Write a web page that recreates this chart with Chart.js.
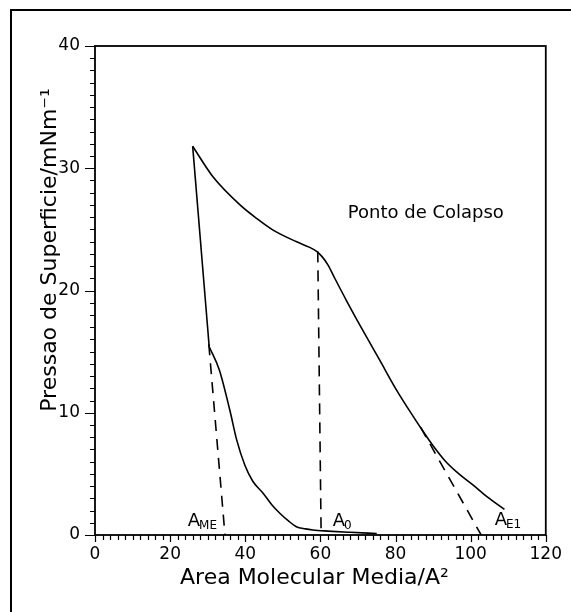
<!DOCTYPE html>
<html>
<head>
<meta charset="utf-8">
<script src="https://cdn.jsdelivr.net/npm/chart.js@4.4.0/dist/chart.umd.min.js"></script>
<style>
  html, body { margin: 0; padding: 0; background: #fff; }
  #wrap { position: relative; width: 571px; height: 612px; }
  #frame { position: absolute; left: 10px; top: 9px; right: 0; bottom: 0;
           border-top: 2px solid #000; border-left: 2px solid #000; pointer-events: none; }
</style>
</head>
<body>
<div id="wrap">
  <canvas id="chart" width="571" height="612"></canvas>
  <div id="frame"></div>
</div>
<script>
// compression branch: collapse point out to A_E1
const upperArea     = [26, 31.4, 38.6, 43, 47.3, 53.7, 57, 59, 60.5, 62, 64, 66.9, 71, 75.8, 80, 84.7, 87.5, 90, 93.1, 96.5, 100.6, 104.5, 109];
const upperPressure = [31.8, 29.3, 27.0, 25.9, 24.96, 23.98, 23.55, 23.2, 22.75, 22.1, 20.9, 19.2, 16.9, 14.3, 12.0, 9.7, 8.4, 7.3, 6.1, 5.1, 4.1, 3.1, 2.1];

// drop from the collapse point to the kink
const collapseArea = [26, 30.4];
const collapsePressure = [31.8, 15.4];

// expansion branch: kink back down to the baseline
const lowerArea     = [30.4, 33.1, 35.9, 37.7, 39.9, 42, 44.8, 47, 49.2, 51.5, 53.6, 56, 58, 62, 68, 75];
const lowerPressure = [15.4, 13.5, 10.2, 7.8, 5.7, 4.4, 3.4, 2.5, 1.78, 1.15, 0.68, 0.5, 0.41, 0.32, 0.22, 0.12];

// extrapolations to the area axis
const dashMEArea = [30.3, 34.6];
const dashMEPressure = [15.6, 0];
const dash0Area = [59.3, 60.2];
const dash0Pressure = [23.2, 0];
const dashE1Area = [86.7, 102.8];
const dashE1Pressure = [8.8, 0];

// labels placed in data units
const markerMain = ['A', 'A', 'A'];
const markerSub = ['ME', '0', 'E1'];
const markerArea = [24.7, 63.3, 106.4];
const markerPressure = [0.75, 0.7, 0.85];
const noteText = 'Ponto de Colapso';
const noteArea = 67.3;
const notePressure = 25.9;
const xTitle = 'Area Molecular Media/A²';
const yTitle = 'Pressao de Superficie/mNm⁻¹';

const xMin = 0, xMax = 120, xMajor = 20, xMinor = 2;
const yMin = 0, yMax = 40, yMajor = 10, yMinor = 1;

const pts = (xs, ys) => xs.map((v, i) => ({ x: v, y: ys[i] }));

Chart.defaults.font.family = 'DejaVu Sans';
Chart.defaults.color = '#000';

const solid = { showLine: true, pointRadius: 0, borderColor: '#000', borderWidth: 1.6, cubicInterpolationMode: 'monotone', fill: false };
const straight = { showLine: true, pointRadius: 0, borderColor: '#000', borderWidth: 1.6, fill: false };
const dashed = { showLine: true, pointRadius: 0, borderColor: '#000', borderWidth: 1.6, borderDash: [11, 8], fill: false };

// box, tick marks, axis titles and the text inside the plot
const decorations = {
    id: 'decorations',
    afterDraw(chart) {
        const { ctx, chartArea: a, scales: { x, y } } = chart;
        ctx.save();
        ctx.strokeStyle = '#000';
        ctx.lineWidth = 1.8;
        ctx.strokeRect(a.left, a.top, a.right - a.left, a.bottom - a.top);

        ctx.lineWidth = 1.2;
        ctx.beginPath();
        for (let v = yMin; v <= yMax; v += yMinor) {
            const py = Math.round(y.getPixelForValue(v)) + 0.5;
            const len = v % yMajor === 0 ? 10 : 5;
            ctx.moveTo(a.left - len, py);
            ctx.lineTo(a.left, py);
        }
        for (let v = xMin; v <= xMax; v += xMinor) {
            const px = Math.round(x.getPixelForValue(v)) + 0.5;
            const len = v % xMajor === 0 ? 7 : 5;
            ctx.moveTo(px, a.bottom);
            ctx.lineTo(px, a.bottom + len);
        }
        ctx.stroke();

        ctx.fillStyle = '#000';
        ctx.textBaseline = 'alphabetic';
        ctx.textAlign = 'left';
        ctx.font = '18px "DejaVu Sans"';
        ctx.fillText(noteText, x.getPixelForValue(noteArea), y.getPixelForValue(notePressure));

        markerMain.forEach((t, i) => {
            const px = x.getPixelForValue(markerArea[i]);
            const py = y.getPixelForValue(markerPressure[i]);
            ctx.font = '18px "DejaVu Sans"';
            ctx.fillText(t, px, py);
            const w = ctx.measureText(t).width;
            ctx.font = '12px "DejaVu Sans"';
            ctx.fillText(markerSub[i], px + w - 1, py + 3);
        });

        // axis titles
        ctx.textAlign = 'center';
        ctx.font = '22px "DejaVu Sans"';
        ctx.fillText(xTitle, (a.left + a.right) / 2 - 6, 584);
        ctx.translate(56, 250);
        ctx.rotate(-Math.PI / 2);
        ctx.fillText(yTitle, 0, 0);
        ctx.restore();
    }
};

new Chart(document.getElementById('chart'), {
    type: 'scatter',
    data: {
        datasets: [
            { ...solid, data: pts(upperArea, upperPressure) },
            { ...straight, data: pts(collapseArea, collapsePressure) },
            { ...solid, data: pts(lowerArea, lowerPressure) },
            { ...dashed, data: pts(dashMEArea, dashMEPressure) },
            { ...dashed, data: pts(dash0Area, dash0Pressure) },
            { ...dashed, data: pts(dashE1Area, dashE1Pressure) }
        ]
    },
    options: {
        responsive: false,
        animation: false,
        devicePixelRatio: 1,
        layout: { padding: { top: 46, right: 25, left: 0, bottom: 0 } },
        plugins: { legend: { display: false }, tooltip: { enabled: false } },
        scales: {
            x: {
                type: 'linear',
                min: xMin,
                max: xMax,
                grid: { display: false, drawTicks: false },
                border: { display: false },
                ticks: { stepSize: xMajor, padding: 9, font: { size: 17 } },
                afterFit: s => { s.height = 77; }
            },
            y: {
                type: 'linear',
                min: yMin,
                max: yMax,
                grid: { display: false, drawTicks: false },
                border: { display: false },
                ticks: { stepSize: yMajor, padding: 15, font: { size: 17 } },
                afterFit: s => { s.width = 95; }
            }
        }
    },
    plugins: [decorations]
});
</script>
</body>
</html>
